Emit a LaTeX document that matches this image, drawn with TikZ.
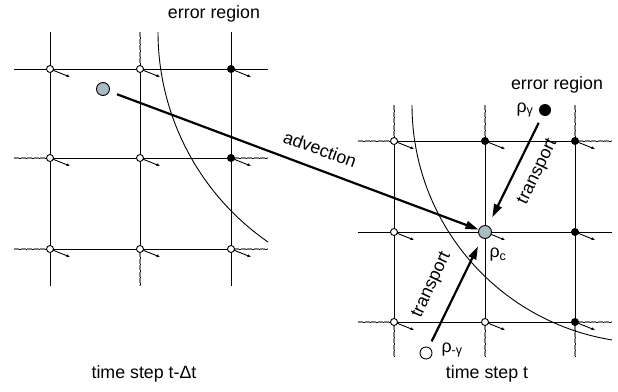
\documentclass[tikz,border=0pt]{standalone}
\usepackage{fontspec}
\setmainfont{Liberation Sans}
\usetikzlibrary{arrows.meta}
\definecolor{partc}{HTML}{A9BCC4}
\tikzset{
  gridl/.style={line width=1.0pt, black},
  dashl/.style={line width=1.5pt, gray, dash pattern=on 5pt off 1.5pt},
  arcl/.style={line width=0.9pt, black},
  smallarr/.style={line width=0.9pt, -{Latex[length=3.5pt,width=3pt]}},
  bigarr/.style={line width=2.2pt, -{Triangle[length=13pt,width=8pt]}},
  wnode/.style={circle, draw, line width=0.9pt, fill=white, inner sep=0pt, minimum size=7pt},
  bnode/.style={circle, fill=black, inner sep=0pt, minimum size=8pt},
  partn/.style={circle, draw, line width=0.9pt, fill=partc, inner sep=0pt, minimum size=13pt},
  lbl/.style={font=\fontsize{17.8}{20}\selectfont, inner sep=1pt}
}
\begin{document}
\begin{tikzpicture}[x=1pt,y=-1pt]
\useasboundingbox (0,0) rectangle (618,391);
% ---------- left grid ----------
\foreach \x in {50,140,231} \draw[gridl] (\x,32) -- (\x,286);
\foreach \y in {69,158,249} \draw[gridl] (14,\y) -- (268,\y);
\draw[dashl] (140,32) -- (140,66);
\draw[dashl] (14,158) -- (47,158);
\draw[dashl] (234,158) -- (268,158);
\draw[dashl] (14,249) -- (47,249);
\draw[dashl] (234,249) -- (268,249);
\draw[dashl] (140,252) -- (140,286);
% error region arc left
\draw[arcl] (158,32) arc[start angle=180, end angle=124.7, radius=255.5];
% ---------- right grid ----------
\foreach \x in {394,485,575} \draw[gridl] (\x,105) -- (\x,357);
\foreach \y in {141,232,322} \draw[gridl] (358,\y) -- (612,\y);
\foreach \x in {394,485,575} {
  \draw[dashl] (\x,105) -- (\x,138);
  \draw[dashl] (\x,325) -- (\x,357);
}
\draw[dashl] (358,141) -- (391,141);
\draw[dashl] (578,141) -- (612,141);
\draw[dashl] (358,322) -- (391,322);
\draw[dashl] (578,322) -- (612,322);
% error region arc right
\draw[arcl] (412,105) arc[start angle=180, end angle=99.2, radius=238];
% ---------- grid node positions and small arrows ----------
\foreach \n/\x/\y in {a1/50/69,a2/140/69,a3/231/69,a4/50/158,a5/140/158,a6/231/158,a7/50/249,a8/140/249,a9/231/249,
                     b1/394/141,b2/485/141,b3/575/141,b4/394/232,b5/485/232,b6/575/232,b7/394/322,b8/485/322,b9/575/322} {
  \coordinate (\n) at (\x,\y);
  \coordinate (\n-e) at (\x+20,\y+8);
  \draw[smallarr] (\n) -- (\n-e);
}
% white nodes
\foreach \n in {a1,a2,a4,a5,a7,a8,a9,b1,b4,b7,b8} \node[wnode] (\n n) at (\n) {};
% black nodes
\foreach \n in {a3,a6,b2,b3,b6,b9} \node[bnode] (\n n) at (\n) {};
% ---------- particles ----------
\node[partn] (p0) at (103,89) {};
\node[partn] (pc) at (485,232) {};
\node[circle, fill=black, inner sep=0pt, minimum size=12pt] (pg) at (545,110) {};
\node[circle, draw, line width=0.9pt, fill=white, inner sep=0pt, minimum size=12pt] (pm) at (426,353) {};
% ---------- arrows ----------
\draw[bigarr, shorten <=8pt] (p0) -- (pc);
\draw[bigarr, shorten <=8pt, shorten >=9.5pt] (pg) -- (pc);
\draw[bigarr, shorten <=6.5pt, shorten >=9pt] (pm) -- (pc);
% ---------- labels ----------
\node[lbl] (er1) at (214,14) {error region};
\node[lbl] (er2) at (557,85) {error region};
\node[lbl, rotate=-19.8] (adv) at (320,149) {advection};
\node[lbl, rotate=64] (tr1) at (538,172) {transport};
\node[lbl, rotate=65] (tr2) at (432,285) {transport};
\node[lbl] (rg) at (525,110) {ρ\textsubscript{γ}};
\node[lbl] (rc) at (498,255) {ρ\textsubscript{c}};
\node[lbl] (rm) at (452,350) {ρ\textsubscript{-γ}};
\node[lbl] (ts1) at (144,374) {time step t-Δt};
\node[lbl] (ts2) at (487,374) {time step t};
\end{tikzpicture}
\end{document}
